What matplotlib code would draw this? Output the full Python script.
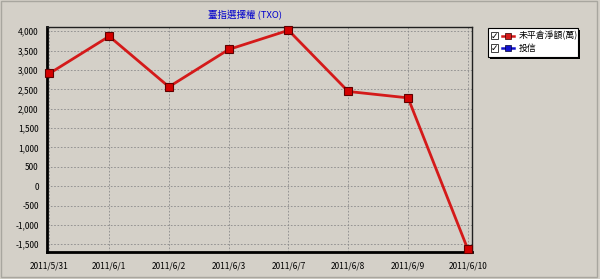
import matplotlib
matplotlib.use("Agg")
import matplotlib.pyplot as plt
from matplotlib.patches import Rectangle
from matplotlib.lines import Line2D

plt.rcParams['font.family'] = ['Noto Sans CJK TC', 'DejaVu Sans']

dates = ['2011/5/31', '2011/6/1', '2011/6/2', '2011/6/3', '2011/6/7',
         '2011/6/8', '2011/6/9', '2011/6/10']
net_oi = [2910, 3870, 2565, 3530, 4025, 2445, 2280, -1630]
yticks = list(range(-1500, 4001, 500))
title = '臺指選擇權 (TXO)'
series_names = ['未平倉淨額(萬)', '投信']
series_colors = ['#d41a1a', '#1111cc']

bg = '#d4d0c8'
W, H = 600, 279

fig = plt.figure(figsize=(6, 2.79), dpi=100, facecolor=bg)
# outer frame
fig.add_artist(Rectangle((0.5 / W, 2.5 / H), 596.5 / W, 276 / H, transform=fig.transFigure,
                         fill=False, edgecolor='#a8a69f', linewidth=1))

ax = fig.add_axes([47 / W, 1 - 252 / H, 425 / W, 225 / H], facecolor=bg)
x = list(range(len(dates)))
ax.plot(x, net_oi, color=series_colors[0], linewidth=2, marker='s', markersize=5.5,
        markerfacecolor='#d40000', markeredgecolor='#600000', markeredgewidth=0.8,
        clip_on=False, zorder=3)

ax.set_xlim(-0.04, 7.07)
ax.set_ylim(-1700, 4110)
ax.set_xticks(x)
ax.set_xticklabels(dates)
ax.set_yticks(yticks)
ax.set_yticklabels([f'{v:,}' for v in yticks])
ax.tick_params(length=0, labelsize=6, pad=6, colors='black')
ax.tick_params(axis='x', pad=7)
ax.grid(True, color='#8a8a8a', linestyle=(0, (2, 2)), linewidth=0.6)
for s in ['left', 'bottom']:
    ax.spines[s].set_linewidth(2)
    ax.spines[s].set_color('black')
for s in ['top', 'right']:
    ax.spines[s].set_linewidth(1)
    ax.spines[s].set_color('#202020')

fig.text(245 / W, 1 - 15 / H, title, color='#0000cc', fontsize=6.8, ha='center', va='center')

# legend with checkboxes
lx, ly, lw, lh = 488, 28, 90, 29
fig.add_artist(Rectangle(((lx + 2) / W, 1 - (ly + lh + 2) / H), lw / W, lh / H,
                         transform=fig.transFigure, facecolor='black', edgecolor='none'))
fig.add_artist(Rectangle((lx / W, 1 - (ly + lh) / H), lw / W, lh / H,
                         transform=fig.transFigure, facecolor='white', edgecolor='black', linewidth=0.8))
for i, (name, col) in enumerate(zip(series_names, series_colors)):
    yc = ly + 8 + i * 12
    fig.add_artist(Rectangle(((lx + 3) / W, 1 - (yc + 3.5) / H), 7 / W, 7 / H,
                             transform=fig.transFigure, facecolor='white',
                             edgecolor='#404040', linewidth=0.7))
    fig.text((lx + 6.5) / W, 1 - yc / H, '✓', fontsize=6.5, ha='center', va='center',
             family='DejaVu Sans', color='black', fontweight='bold')
    fig.add_artist(Line2D([(lx + 14) / W, (lx + 26) / W], [1 - yc / H, 1 - yc / H],
                          transform=fig.transFigure, color=col, linewidth=1.8))
    fig.add_artist(Line2D([(lx + 20) / W], [1 - yc / H], transform=fig.transFigure,
                          color=col, marker='s', markersize=4.5, linestyle='none',
                          markeredgecolor='#300000' if i == 0 else '#000030',
                          markeredgewidth=0.5))
    fig.text((lx + 31) / W, 1 - yc / H, name, fontsize=6.4, ha='left', va='center')

fig.savefig('out.png', dpi=100, facecolor=bg)
